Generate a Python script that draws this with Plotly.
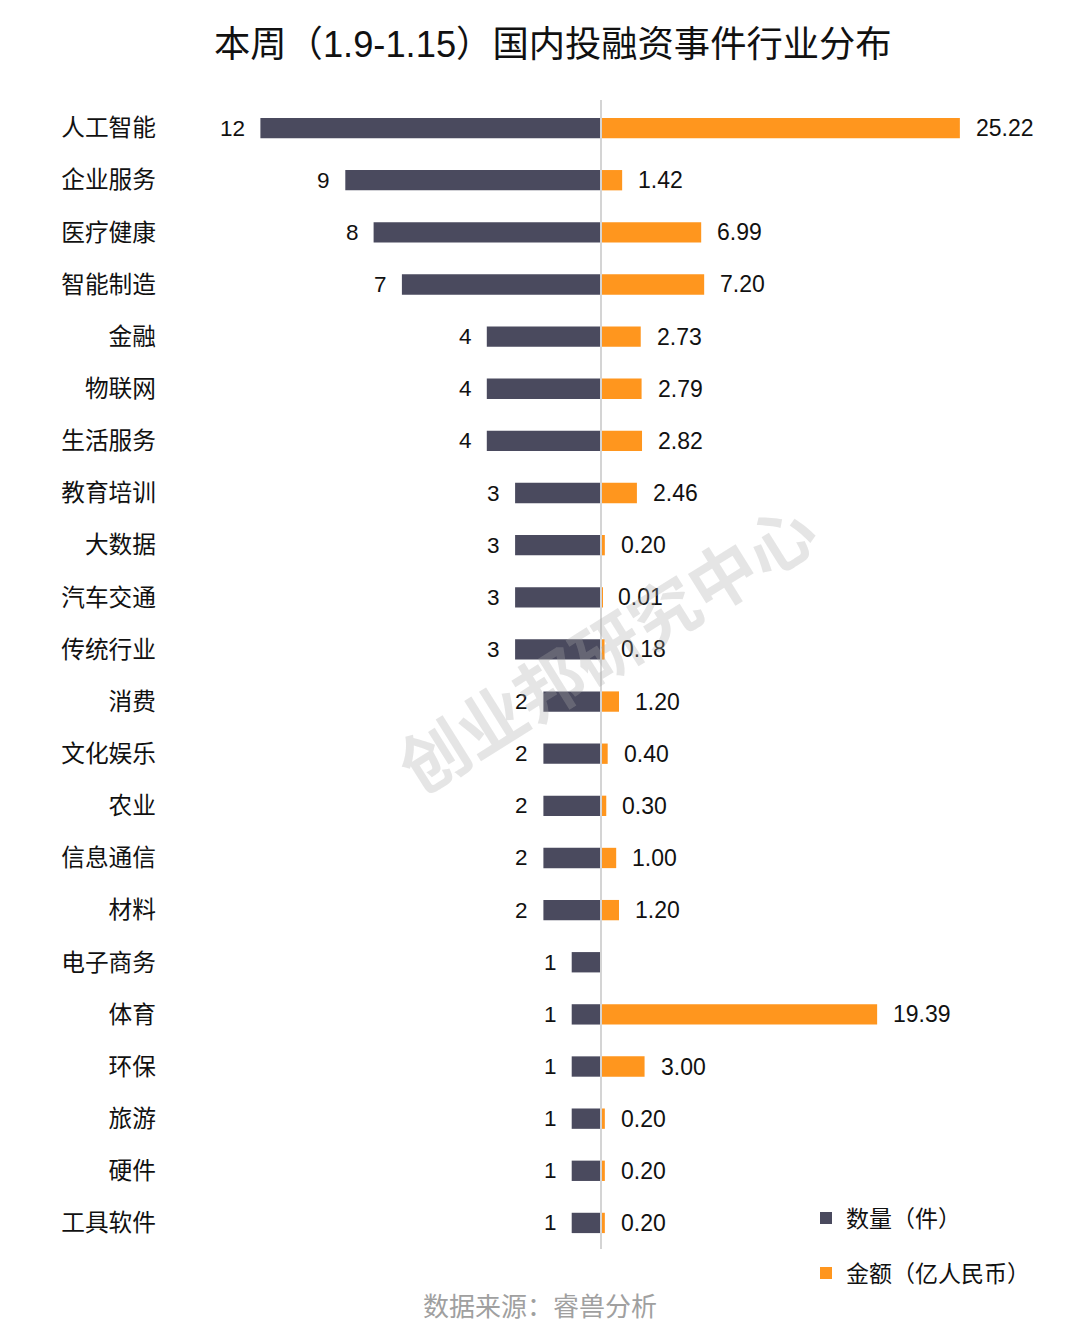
import plotly.graph_objects as go

categories = ["人工智能", "企业服务", "医疗健康", "智能制造", "金融", "物联网", "生活服务",
              "教育培训", "大数据", "汽车交通", "传统行业", "消费", "文化娱乐", "农业",
              "信息通信", "材料", "电子商务", "体育", "环保", "旅游", "硬件", "工具软件"]
counts = [12, 9, 8, 7, 4, 4, 4, 3, 3, 3, 3, 2, 2, 2, 2, 2, 1, 1, 1, 1, 1, 1]
amounts = [25.22, 1.42, 6.99, 7.20, 2.73, 2.79, 2.82, 2.46, 0.20, 0.01, 0.18, 1.20, 0.40, 0.30,
           1.00, 1.20, None, 19.39, 3.00, 0.20, 0.20, 0.20]
amount_labels = ["25.22", "1.42", "6.99", "7.20", "2.73", "2.79", "2.82", "2.46", "0.20", "0.01",
                 "0.18", "1.20", "0.40", "0.30", "1.00", "1.20", "", "19.39", "3.00", "0.20",
                 "0.20", "0.20"]
title = "本周（1.9-1.15）国内投融资事件行业分布"
source = "数据来源：睿兽分析"
watermark = "创业邦研究中心"
legend_names = ["数量（件）", "金额（亿人民币）"]

W, H = 1080, 1335
OFF = 8  # page body margin
FONT = "Liberation Sans, Arial, Noto Sans CJK SC, sans-serif"
DARK = "#4a4a5e"
ORANGE = "#ff961e"


def px(x):
    return (x - OFF) / W


def py(y):
    return 1 - (y - OFF) / H


fig = go.Figure()
fig.add_trace(go.Bar(y=categories, x=counts, orientation="h", xaxis="x", yaxis="y",
                     marker=dict(color=DARK, line=dict(width=0)), width=0.39,
                     name=legend_names[0], legend="legend", hoverinfo="skip"))
fig.add_trace(go.Bar(y=categories, x=amounts, orientation="h", xaxis="x2", yaxis="y",
                     marker=dict(color=ORANGE, line=dict(width=0)), width=0.39,
                     name=legend_names[1], legend="legend2", hoverinfo="skip"))

annotations = []
for c, v in zip(categories, counts):
    annotations.append(dict(x=v, y=c, xref="x", yref="y", text=str(v), showarrow=False,
                            xanchor="right", xshift=-13, font=dict(size=22.5, color="#111", family=FONT)))
for c, v, t in zip(categories, amounts, amount_labels):
    if v is None or t == "":
        continue
    annotations.append(dict(x=v, y=c, xref="x2", yref="y", text=t, showarrow=False,
                            xanchor="left", xshift=14, font=dict(size=23, color="#111", family=FONT)))

annotations.append(dict(x=px(553), y=py(45), xref="paper", yref="paper", text=title,
                        showarrow=False, xanchor="center", yanchor="middle",
                        font=dict(size=36.3, color="#111", family=FONT)))
annotations.append(dict(x=px(540), y=py(1307), xref="paper", yref="paper", text=source,
                        showarrow=False, xanchor="center", yanchor="middle",
                        font=dict(size=26, color="#a0a0a0", family=FONT)))
annotations.append(dict(x=px(608), y=py(650), xref="paper", yref="paper", text="<b>" + watermark + "</b>",
                        showarrow=False, xanchor="center", yanchor="middle", textangle=-32,
                        font=dict(size=68, color="rgba(170,170,170,0.3)", family=FONT)))

y_top = 102
y_bot = 1249

fig.update_layout(
    width=W, height=H,
    margin=dict(l=0, r=0, t=0, b=0),
    paper_bgcolor="white", plot_bgcolor="white",
    font=dict(family=FONT, size=22, color="#111"),
    showlegend=True,
    xaxis=dict(domain=[px(162), px(600)], range=[438 / 28.3, 0], showgrid=False, zeroline=False,
               showticklabels=False, showline=False, fixedrange=True),
    xaxis2=dict(domain=[px(602), px(1070)], range=[0, 468 / 14.19], showgrid=False, zeroline=False,
                showticklabels=False, showline=False, anchor="y", fixedrange=True),
    yaxis=dict(domain=[py(y_bot), py(y_top)], autorange="reversed", anchor="x",
               showgrid=False, zeroline=False, showline=False, ticks="",
               tickfont=dict(size=23.7, color="#111", family=FONT), ticklabelstandoff=5),
    legend=dict(x=px(806), y=py(1218), xanchor="left", yanchor="middle",
                font=dict(size=23, color="#111", family=FONT), bgcolor="rgba(0,0,0,0)"),
    legend2=dict(x=px(806), y=py(1273), xanchor="left", yanchor="middle",
                 font=dict(size=23, color="#111", family=FONT), bgcolor="rgba(0,0,0,0)"),
    annotations=annotations,
    shapes=[dict(type="line", xref="paper", yref="paper", x0=px(601), x1=px(601),
                 y0=py(y_bot), y1=py(100), line=dict(color="#d4d4d4", width=2))],
)

fig.write_html("out.html")
